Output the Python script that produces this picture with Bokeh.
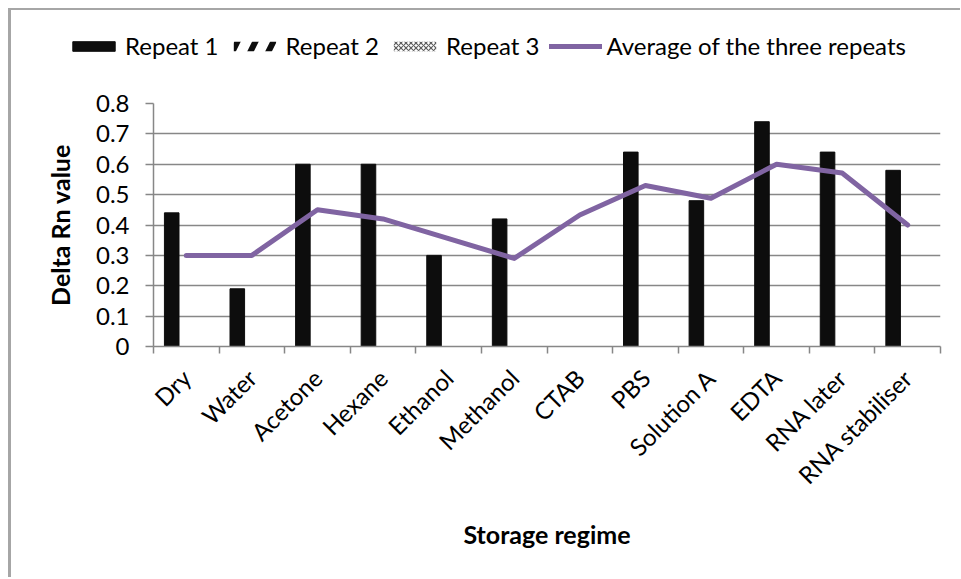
import math
from bokeh.plotting import figure
from bokeh.layouts import column
from bokeh.models import Range1d, FixedTicker, Legend, LegendItem, ColumnDataSource
from bokeh.embed import file_html
from bokeh.resources import INLINE

# ---- data ----
categories = ["Dry", "Water", "Acetone", "Hexane", "Ethanol", "Methanol", "CTAB",
              "PBS", "Solution A", "EDTA", "RNA later", "RNA stabiliser"]
repeat1 = [0.44, 0.19, 0.60, 0.60, 0.30, 0.42, 0.0, 0.64, 0.48, 0.74, 0.64, 0.58]
repeat2 = [0.0, 0.0, 0.0, 0.0, 0.0, 0.0, 0.0, 0.0, 0.0, 0.0, 0.0, 0.0]
repeat3 = [0.0, 0.0, 0.0, 0.0, 0.0, 0.0, 0.0, 0.0, 0.0, 0.0, 0.0, 0.0]
average = [0.30, 0.30, 0.45, 0.42, 0.355, 0.29, 0.433, 0.53, 0.488, 0.60, 0.571, 0.40]
y_ticks = [0, 0.1, 0.2, 0.3, 0.4, 0.5, 0.6, 0.7, 0.8]
y_tick_labels = ["0", "0.1", "0.2", "0.3", "0.4", "0.5", "0.6", "0.7", "0.8"]
legend_labels = ["Repeat 1", "Repeat 2", "Repeat 3", "Average of the three repeats"]

FONT = "Lato"
GRID = "#878787"
FS = "24px"

n = len(categories)
centers = [i + 0.5 for i in range(n)]
bw = 1 / 4.5

src = ColumnDataSource(dict(
    x1=[c - bw for c in centers], x2=centers, x3=[c + bw for c in centers],
    xc=centers, r1=repeat1, r2=repeat2, r3=repeat3, avg=average,
))

BAR1 = dict(fill_color="#0d0d0d", line_color="#0d0d0d")
BAR2 = dict(fill_color="white", line_color=None, hatch_pattern="right_diagonal_line",
            hatch_color="#0d0d0d", hatch_weight=6, hatch_scale=36)
BAR3 = dict(fill_color="white", line_color=None, hatch_pattern="diagonal_cross",
            hatch_color="#5e5e5e", hatch_weight=1.2, hatch_scale=5)
LINE = dict(line_color="#8064A2", line_width=5, line_join="round", line_cap="round")


def add_series(fig):
    a = fig.vbar(x="x1", top="r1", width=bw, source=src, **BAR1)
    b = fig.vbar(x="x2", top="r2", width=bw, source=src, **BAR2)
    c = fig.vbar(x="x3", top="r3", width=bw, source=src, **BAR3)
    d = fig.line(x="xc", y="avg", source=src, **LINE)
    return [a, b, c, d]


# ---- legend strip (its own frame so the legend is not clipped) ----
lf = figure(width=949, height=73, output_backend="svg", toolbar_location=None,
            x_range=Range1d(-20, -19), y_range=Range1d(0, 1),
            x_axis_location=None, y_axis_location=None,
            min_border_left=0, min_border_right=0, min_border_top=0, min_border_bottom=0)
lf.frame_align = False
lf.grid.visible = False
lf.outline_line_color = None
lf_renderers = add_series(lf)
legend = Legend(items=[LegendItem(label=lab, renderers=[r]) for lab, r in zip(legend_labels, lf_renderers)],
                orientation="horizontal", location=(56, 23),
                glyph_width=53, glyph_height=12, label_standoff=5, spacing=9, padding=0, margin=0,
                label_text_font=FONT, label_text_font_size=FS, label_text_color="black",
                border_line_color=None, background_fill_alpha=0)
lf.add_layout(legend)

# ---- main chart ----
p = figure(width=949, height=494, output_backend="svg", toolbar_location=None,
           x_range=Range1d(0, n), y_range=Range1d(0, 0.8),
           min_border_left=142, min_border_right=20, min_border_top=20, min_border_bottom=231)
p.frame_align = False
p.outline_line_color = None
add_series(p)

# y axis
p.yaxis.ticker = FixedTicker(ticks=y_ticks)
p.yaxis.major_label_overrides = {t: l for t, l in zip(y_ticks, y_tick_labels)}
p.yaxis.axis_label = "Delta Rn value"
p.yaxis.minor_tick_line_color = None
p.yaxis.major_tick_in = 0
p.yaxis.major_tick_out = 8
p.yaxis.major_label_standoff = 16

# x axis
p.xaxis.ticker = FixedTicker(ticks=centers, minor_ticks=list(range(n + 1)))
p.xaxis.major_label_overrides = {c: lab for c, lab in zip(centers, categories)}
p.xaxis.major_label_orientation = math.pi / 4
p.xaxis.axis_label = "Storage regime"
p.xaxis.minor_tick_in = 0
p.xaxis.minor_tick_out = 7
p.xaxis.minor_tick_line_color = GRID
p.xaxis.minor_tick_line_width = 1.5
p.xaxis.major_label_standoff = 20
p.xaxis.axis_label_standoff = 17

for ax in (p.xaxis, p.yaxis):
    ax.axis_line_color = GRID
    ax.axis_line_width = 1.5
    ax.major_tick_line_width = 1.5
    ax.major_label_text_font = FONT
    ax.major_label_text_font_size = FS
    ax.major_label_text_color = "black"
    ax.axis_label_text_font = FONT
    ax.axis_label_text_font_size = "25px"
    ax.axis_label_text_font_style = "bold"
    ax.axis_label_text_color = "black"
p.yaxis.major_tick_line_color = GRID
p.xaxis.major_tick_line_color = None
p.yaxis.axis_label_standoff = 18

p.xgrid.grid_line_color = None
p.ygrid.ticker = FixedTicker(ticks=y_ticks)
p.ygrid.grid_line_color = GRID
p.ygrid.grid_line_width = 1.5

layout = column(lf, p, spacing=0)
layout.styles = {"margin-left": "8px", "margin-top": "8px",
                 "border-left": "3px solid #a6a6a6", "border-top": "2px solid #a6a6a6"}

open("out.html", "w").write(file_html(layout, INLINE))
